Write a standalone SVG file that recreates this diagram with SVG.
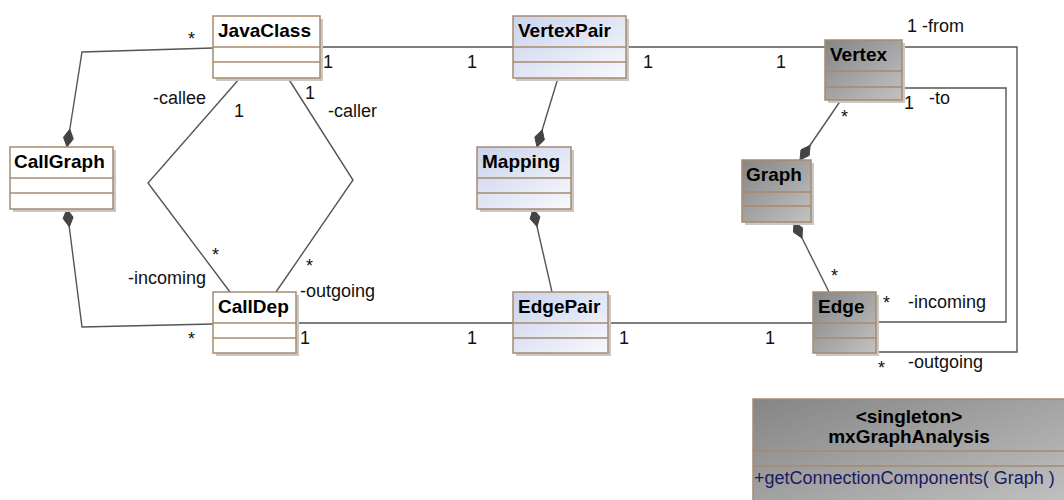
<svg xmlns="http://www.w3.org/2000/svg" width="1064" height="500" viewBox="0 0 1064 500">
<defs>
<linearGradient id="gGray" x1="0" y1="0" x2="1" y2="1">
<stop offset="0" stop-color="#858585"/>
<stop offset="1" stop-color="#c2c2c2"/>
</linearGradient>
<linearGradient id="gBlue" x1="0" y1="0" x2="1" y2="1">
<stop offset="0" stop-color="#c9d3ec"/>
<stop offset="1" stop-color="#f8f9fd"/>
</linearGradient>
<style>
.sh{fill:#c8c8c8}
.box{stroke:#a88a6c;stroke-width:1.5}
.w{fill:#ffffff}
.b{fill:url(#gBlue)}
.g{fill:url(#gGray)}
.div{stroke:#a88a6c;stroke-width:1.5}
.t{font-family:"Liberation Sans",Arial,sans-serif;font-weight:bold;font-size:19px;fill:#000}
.lbl{font-family:"Liberation Sans",Arial,sans-serif;font-size:18px;fill:#111}
.ln{fill:none;stroke:#555555;stroke-width:1.4}
.dm{fill:#444444;stroke:#444444;stroke-width:1}
.m{font-family:"Liberation Sans",Arial,sans-serif;font-size:18px;fill:#1a1a5e}
</style>
</defs>
<rect width="1064" height="500" fill="#ffffff"/>

<g id="connectors">
<polyline class="ln" points="213,48 82,52 67,147"/>
<polygon class="dm" points="67,147 73.3,138.9 69.8,129.2 63.5,137.3"/>
<polyline class="ln" points="67,209 82,327 213,324"/>
<polygon class="dm" points="67,209 73.1,217.3 69.3,226.9 63.1,218.5"/>
<polyline class="ln" points="240,78 148,183 230,292"/>
<polyline class="ln" points="288,78 353,180 276,292"/>
<line class="ln" x1="320" y1="47" x2="513" y2="47"/>
<line class="ln" x1="626" y1="47" x2="825" y2="47"/>
<line class="ln" x1="296" y1="323" x2="513" y2="323"/>
<line class="ln" x1="608" y1="323" x2="813" y2="323"/>
<line class="ln" x1="558" y1="78" x2="537" y2="147"/>
<polygon class="dm" points="537,147 544.4,139.9 542.2,129.8 534.8,136.9"/>
<line class="ln" x1="533" y1="209" x2="552" y2="292"/>
<polygon class="dm" points="533,209 539.9,216.7 537,226.6 530.1,218.9"/>
<line class="ln" x1="841" y1="100" x2="800" y2="160"/>
<polygon class="dm" points="800,160 809.2,155.4 810.2,145.2 801,149.8"/>
<line class="ln" x1="794" y1="222" x2="829" y2="292"/>
<polygon class="dm" points="794,222 802.5,227.8 802,238.1 793.5,232.3"/>
<polyline class="ln" points="902,47 1017,47 1017,352 876,352"/>
<polyline class="ln" points="902,88 1006,88 1006,322 876,322"/>

<text class="lbl" x="188" y="45">*</text>
<text class="lbl" x="153" y="104">-callee</text>
<text class="lbl" x="234" y="117">1</text>
<text class="lbl" x="305" y="99">1</text>
<text class="lbl" x="328" y="117">-caller</text>
<text class="lbl" x="323" y="68">1</text>
<text class="lbl" x="467" y="68">1</text>
<text class="lbl" x="643" y="68">1</text>
<text class="lbl" x="776" y="68">1</text>
<text class="lbl" x="907" y="32">1 -from</text>
<text class="lbl" x="904" y="109">1</text>
<text class="lbl" x="929" y="104">-to</text>
<text class="lbl" x="841" y="123">*</text>
<text class="lbl" x="188" y="345">*</text>
<text class="lbl" x="212" y="261">*</text>
<text class="lbl" x="128" y="284">-incoming</text>
<text class="lbl" x="306" y="272">*</text>
<text class="lbl" x="300" y="297">-outgoing</text>
<text class="lbl" x="300" y="344">1</text>
<text class="lbl" x="467" y="344">1</text>
<text class="lbl" x="619" y="344">1</text>
<text class="lbl" x="765" y="344">1</text>
<text class="lbl" x="831" y="282">*</text>
<text class="lbl" x="883" y="309">*</text>
<text class="lbl" x="908" y="308">-incoming</text>
<text class="lbl" x="878" y="374">*</text>
<text class="lbl" x="908" y="368">-outgoing</text>
</g>

<g id="JavaClass">
<rect class="sh" x="216" y="19" width="107" height="62"/>
<rect class="box w" x="213" y="16" width="107" height="62"/>
<line class="div" x1="213" y1="47" x2="320" y2="47"/>
<line class="div" x1="213" y1="62" x2="320" y2="62"/>
<text class="t" x="218" y="37">JavaClass</text>
</g>

<g id="CallGraph">
<rect class="sh" x="13" y="150" width="103" height="62"/>
<rect class="box w" x="10" y="147" width="103" height="62"/>
<line class="div" x1="10" y1="178" x2="113" y2="178"/>
<line class="div" x1="10" y1="193" x2="113" y2="193"/>
<text class="t" x="14" y="168">CallGraph</text>
</g>

<g id="CallDep">
<rect class="sh" x="216" y="295" width="83" height="61"/>
<rect class="box w" x="213" y="292" width="83" height="61"/>
<line class="div" x1="213" y1="323" x2="296" y2="323"/>
<line class="div" x1="213" y1="338" x2="296" y2="338"/>
<text class="t" x="218" y="313">CallDep</text>
</g>

<g id="VertexPair">
<rect class="sh" x="516" y="19" width="113" height="62"/>
<rect class="box b" x="513" y="16" width="113" height="62"/>
<line class="div" x1="513" y1="47" x2="626" y2="47"/>
<line class="div" x1="513" y1="62" x2="626" y2="62"/>
<text class="t" x="518" y="37">VertexPair</text>
</g>

<g id="Mapping">
<rect class="sh" x="480" y="150" width="94" height="62"/>
<rect class="box b" x="477" y="147" width="94" height="62"/>
<line class="div" x1="477" y1="178" x2="571" y2="178"/>
<line class="div" x1="477" y1="193" x2="571" y2="193"/>
<text class="t" x="482" y="168">Mapping</text>
</g>

<g id="EdgePair">
<rect class="sh" x="516" y="295" width="95" height="61"/>
<rect class="box b" x="513" y="292" width="95" height="61"/>
<line class="div" x1="513" y1="323" x2="608" y2="323"/>
<line class="div" x1="513" y1="338" x2="608" y2="338"/>
<text class="t" x="518" y="313">EdgePair</text>
</g>

<g id="Vertex">
<rect class="sh" x="828" y="43" width="77" height="60"/>
<rect class="box g" x="825" y="40" width="77" height="60"/>
<line class="div" x1="825" y1="71" x2="902" y2="71"/>
<line class="div" x1="825" y1="87" x2="902" y2="87"/>
<text class="t" x="830" y="61">Vertex</text>
</g>

<g id="Graph">
<rect class="sh" x="745" y="163" width="69" height="62"/>
<rect class="box g" x="742" y="160" width="69" height="62"/>
<line class="div" x1="742" y1="192" x2="811" y2="192"/>
<line class="div" x1="742" y1="206" x2="811" y2="206"/>
<text class="t" x="746" y="181">Graph</text>
</g>

<g id="Edge">
<rect class="sh" x="816" y="295" width="63" height="61"/>
<rect class="box g" x="813" y="292" width="63" height="61"/>
<line class="div" x1="813" y1="323" x2="876" y2="323"/>
<line class="div" x1="813" y1="338" x2="876" y2="338"/>
<text class="t" x="818" y="313">Edge</text>
</g>

<g id="mxGraphAnalysis">
<rect class="box g" x="753" y="399" width="313" height="110"/>
<line class="div" x1="753" y1="451" x2="1066" y2="451"/>
<line class="div" x1="753" y1="466" x2="1066" y2="466"/>
<text class="t" x="909" y="423" text-anchor="middle">&lt;singleton&gt;</text>
<text class="t" x="909" y="443" text-anchor="middle">mxGraphAnalysis</text>
<text class="m" x="754" y="484">+getConnectionComponents( Graph )</text>
</g>
</svg>
